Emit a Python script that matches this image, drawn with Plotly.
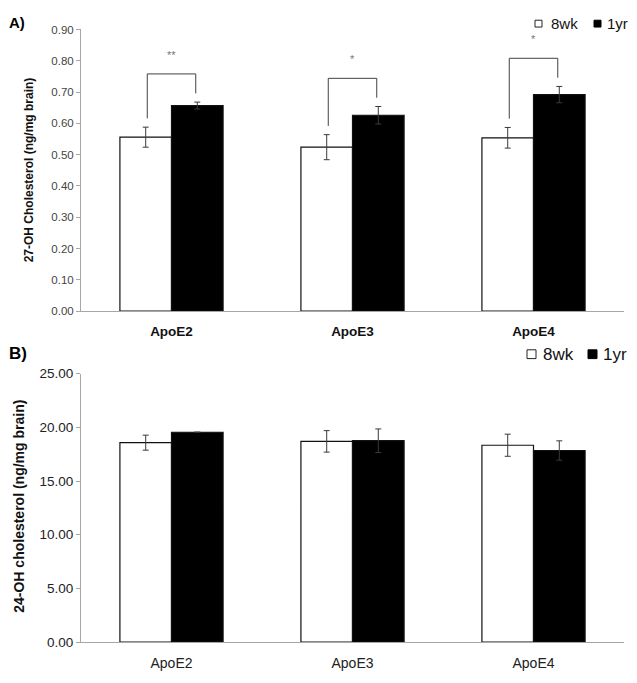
import plotly.graph_objects as go

W, H = 637, 683

categories = ["ApoE2", "ApoE3", "ApoE4"]
series_names = ["8wk", "1yr"]

# Panel A: 27-OH cholesterol (ng/mg brain)
a_8wk = [0.556, 0.524, 0.554]
a_8wk_err = [0.032, 0.040, 0.033]
a_1yr = [0.657, 0.626, 0.692]
a_1yr_err = [0.011, 0.028, 0.026]
a_sig = ["**", "*", "*"]
a_ticks = [0.0, 0.1, 0.2, 0.3, 0.4, 0.5, 0.6, 0.7, 0.8, 0.9]

# Panel B: 24-OH cholesterol (ng/mg brain)
b_8wk = [18.58, 18.70, 18.34]
b_8wk_err = [0.70, 1.00, 1.03]
b_1yr = [19.55, 18.76, 17.85]
b_1yr_err = [None, 1.10, 0.90]   # no visible error bar for ApoE2 1yr
b_ticks = [0, 5, 10, 15, 20, 25]

FONT = "Liberation Sans, Arial, sans-serif"
xpos = list(range(len(categories)))


def px(x):
    return x / W


def py(y):
    return 1 - y / H


fig = go.Figure()

err_style = dict(type="data", visible=True, color="#3a3a3a", thickness=1, width=3)

for (v8, e8, v1, e1, xa, ya) in [
    (a_8wk, a_8wk_err, a_1yr, a_1yr_err, "x", "y"),
    (b_8wk, b_8wk_err, b_1yr, b_1yr_err, "x2", "y2"),
]:
    fig.add_trace(go.Bar(
        x=xpos, y=v8, name=series_names[0], xaxis=xa, yaxis=ya,
        marker=dict(color="white", line=dict(color="#111111", width=1.2)),
        error_y=dict(array=e8, **err_style), showlegend=False,
    ))
    fig.add_trace(go.Bar(
        x=xpos, y=v1, name=series_names[1], xaxis=xa, yaxis=ya,
        marker=dict(color="black", line=dict(color="#111111", width=1.2)),
        error_y=dict(array=e1, **err_style), showlegend=False,
    ))

x_dom = [px(81), px(624)]
axis_common = dict(showgrid=False, zeroline=False, showline=True,
                   linecolor="#a6a6a6", linewidth=1)

fig.update_layout(
    width=W, height=H,
    margin=dict(l=0, r=0, t=0, b=0),
    paper_bgcolor="white", plot_bgcolor="white",
    barmode="group", bargap=0.43, bargroupgap=0,
    font=dict(family=FONT, color="#222222"),
    xaxis=dict(domain=x_dom, anchor="y", range=[-0.5, 2.5],
               tickvals=xpos, ticktext=["<b>%s</b>" % c for c in categories],
               ticks="", tickfont=dict(size=13.5, color="#111111"),
               ticklabelstandoff=8, **axis_common),
    yaxis=dict(domain=[py(311), py(23)], anchor="x", range=[0, 0.9],
               tickvals=a_ticks, tickformat=".2f", ticks="outside", ticklen=4,
               tickcolor="#a6a6a6", tickfont=dict(size=11.5, color="#444444"),
               **axis_common),
    xaxis2=dict(domain=x_dom, anchor="y2", range=[-0.5, 2.5],
                tickvals=xpos, ticktext=categories,
                ticks="", tickfont=dict(size=14, color="#222222"),
                ticklabelstandoff=8, **axis_common),
    yaxis2=dict(domain=[py(649.3), py(375)], anchor="x2", range=[0, 25],
                tickvals=b_ticks, tickformat=".2f", ticks="outside", ticklen=4,
                tickcolor="#a6a6a6", tickfont=dict(size=13.5, color="#222222"),
                **axis_common),
)

# significance brackets (panel A), computed from the data
leg_off = 0.134
gap = 0.028
for i, s in enumerate(a_sig):
    left = a_8wk[i] + a_8wk_err[i] + gap
    right = a_1yr[i] + a_1yr_err[i] + gap
    top = max(left, right) + 0.062
    x0, x1 = xpos[i] - leg_off, xpos[i] + leg_off
    fig.add_shape(type="path", xref="x", yref="y",
                  path=f"M {x0},{left} L {x0},{top} L {x1},{top} L {x1},{right}",
                  line=dict(color="#404040", width=1))
    fig.add_annotation(x=xpos[i], y=top + 0.062, xref="x", yref="y",
                       text=s, showarrow=False, xanchor="center", yanchor="middle",
                       font=dict(size=11, color="#777777", family=FONT))

# panel labels
fig.add_annotation(x=px(7), y=py(16), xref="paper", yref="paper", text="<b>A)</b>",
                   showarrow=False, xanchor="left", yanchor="middle",
                   font=dict(size=15, color="black"))
fig.add_annotation(x=px(7), y=py(354), xref="paper", yref="paper", text="<b>B)</b>",
                   showarrow=False, xanchor="left", yanchor="middle",
                   font=dict(size=17, color="black"))

# y-axis titles
fig.add_annotation(x=px(29), y=py(167), xref="paper", yref="paper",
                   text="<b>27-OH Cholesterol (ng/mg brain)</b>", textangle=-90,
                   showarrow=False, xanchor="center", yanchor="middle",
                   font=dict(size=12, color="#111111"))
fig.add_annotation(x=px(19), y=py(511), xref="paper", yref="paper",
                   text="<b>24-OH cholesterol (ng/mg brain)</b>", textangle=-90,
                   showarrow=False, xanchor="center", yanchor="middle",
                   font=dict(size=14, color="#111111"))

# legends (drawn keys)
def legend(x_sq1, x_t1, x_sq2, x_t2, yc, sq, fs):
    fig.add_shape(type="rect", xref="paper", yref="paper",
                  x0=px(x_sq1), x1=px(x_sq1 + sq), y0=py(yc + sq / 2), y1=py(yc - sq / 2),
                  fillcolor="white", line=dict(color="#222222", width=1))
    fig.add_shape(type="rect", xref="paper", yref="paper",
                  x0=px(x_sq2), x1=px(x_sq2 + sq), y0=py(yc + sq / 2), y1=py(yc - sq / 2),
                  fillcolor="black", line=dict(color="black", width=1))
    fig.add_annotation(x=px(x_t1), y=py(yc), xref="paper", yref="paper", text=series_names[0],
                       showarrow=False, xanchor="left", yanchor="middle",
                       font=dict(size=fs, color="#111111"))
    fig.add_annotation(x=px(x_t2), y=py(yc), xref="paper", yref="paper", text=series_names[1],
                       showarrow=False, xanchor="left", yanchor="middle",
                       font=dict(size=fs, color="#111111"))

legend(535, 549, 594, 605, 17, 7, 15)
legend(527, 541, 588, 601, 355, 9, 17)

fig.write_html(
    "out.html",
    config={"displayModeBar": False},
    post_script="document.body.style.margin='0';",
)
